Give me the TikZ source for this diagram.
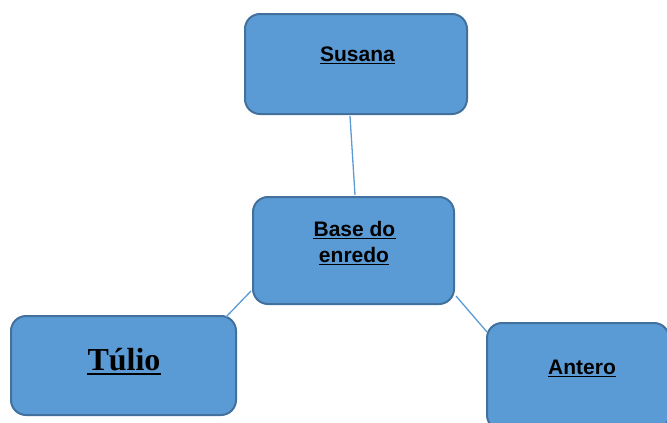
\documentclass[tikz,border=0pt]{standalone}
\usepackage{fontspec}
\setmainfont{Liberation Sans}
\newfontfamily\serifbold{Liberation Serif}
\definecolor{boxfill}{HTML}{5B9BD5}
\definecolor{boxline}{HTML}{41719C}
\begin{document}
\begin{tikzpicture}[x=1pt,y=-1pt,
  box/.style={draw=boxline,fill=boxfill,line width=2pt,rounded corners=15pt,inner sep=0pt},
  conn/.style={draw=boxfill,line width=1.3pt},
  lbl/.style={inner sep=0pt,anchor=base,font=\bfseries\fontsize{21}{25}\selectfont},
  bigl/.style={inner sep=0pt,anchor=base,font=\serifbold\bfseries\fontsize{32}{36}\selectfont},
  ul/.style={draw=black,line width=1.8pt}]
\useasboundingbox (0,0) rectangle (667,423);
\clip (0,0) rectangle (667,423);
% boxes
\node[box,minimum width=222pt,minimum height=100pt] (susana) at (356,64) {};
\node[box,minimum width=201pt,minimum height=107pt] (base) at (353.5,250.5) {};
\node[box,minimum width=225pt,minimum height=99pt] (tulio) at (123.5,365.5) {};
\node[box,minimum width=182pt,minimum height=107pt] (antero) at (578,376.5) {};
% connectors
\draw[conn] ([xshift=-6pt,yshift=-1pt]susana.south) -- ([xshift=1.5pt,yshift=1pt]base.north);
\draw[conn] ([xshift=-1pt,yshift=14pt]base.south west) -- ([xshift=-11pt,yshift=-2pt]tulio.north east);
\draw[conn] ([xshift=1pt,yshift=9pt]base.south east) -- ([xshift=1pt,yshift=-10pt]antero.north west);
% labels
\node[lbl] (tsus) at (357.5,61) {Susana};
\node[lbl] (tbase1) at (354.5,236) {Base do};
\node[lbl] (tbase2) at (354,262) {enredo};
\node[bigl] (ttul) at (124,370) {Túlio};
\node[lbl] (tant) at (582,374) {Antero};
% underlines
\foreach \t in {tsus,tbase1,tbase2,tant}
  \draw[ul] ([yshift=-2.5pt]\t.base west) -- ([yshift=-2.5pt]\t.base east);
\draw[ul] ([yshift=-4pt]ttul.base west) -- ([yshift=-4pt]ttul.base east);
\end{tikzpicture}
\end{document}
